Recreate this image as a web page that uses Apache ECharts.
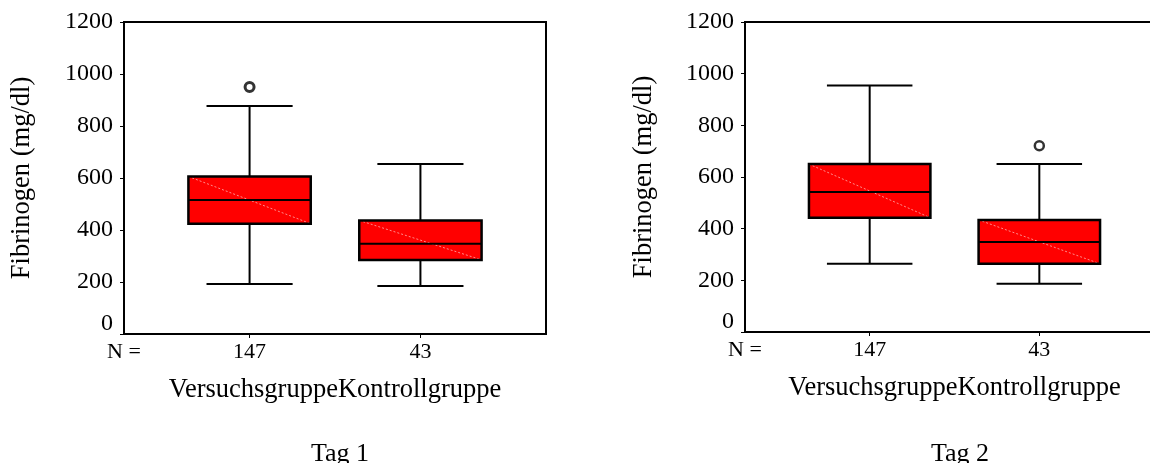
<!DOCTYPE html>
<html>
<head>
<meta charset="utf-8">
<script src="https://cdn.jsdelivr.net/npm/echarts@6/dist/echarts.min.js"></script>
<style>html,body{margin:0;padding:0;background:#fff;overflow:hidden}#c{width:1150px;height:463px}</style>
</head>
<body>
<div id="c"></div>
<script>
// ---- data ----
const categories = ['Versuchsgruppe', 'Kontrollgruppe'];
const nCounts = [147, 43];
const panelTitles = ['Tag 1', 'Tag 2'];
const yTicks = [0, 200, 400, 600, 800, 1000, 1200];
// [low whisker, Q1, median, Q3, high whisker]
const tag1Boxes = [[192, 424, 515, 606, 877], [185, 285, 347, 437, 654]];
const tag2Boxes = [[264, 442, 542, 650, 954], [187, 264, 348, 434, 650]];
// [category index, value]
const tag1Outliers = [[0, 950]];
const tag2Outliers = [[1, 721]];

const FONT = '"Liberation Serif", "Times New Roman", serif';
const XMIN = 0.265, XMAX = 2.735, BOX_HW = 0.358, CAP_HW = 0.252;

function renderBox(params, api) {
  const x = api.value(0);
  const lo = api.value(1), q1 = api.value(2), md = api.value(3), q3 = api.value(4), hi = api.value(5);
  const pLo = api.coord([x, lo]), pHi = api.coord([x, hi]);
  const bl = api.coord([x - BOX_HW, q1]), tr = api.coord([x + BOX_HW, q3]);
  const mL = api.coord([x - BOX_HW, md]), mR = api.coord([x + BOX_HW, md]);
  const cL = api.coord([x - CAP_HW, lo])[0], cR = api.coord([x + CAP_HW, lo])[0];
  const ls = {stroke: '#000', lineWidth: 2};
  return {
    type: 'group',
    children: [
      {type: 'line', shape: {x1: pLo[0], y1: pLo[1], x2: pHi[0], y2: pHi[1]}, style: ls},
      {type: 'line', shape: {x1: cL, y1: pLo[1], x2: cR, y2: pLo[1]}, style: ls},
      {type: 'line', shape: {x1: cL, y1: pHi[1], x2: cR, y2: pHi[1]}, style: ls},
      {type: 'rect', shape: {x: bl[0], y: tr[1], width: tr[0] - bl[0], height: bl[1] - tr[1]}, style: {fill: '#ff0000', stroke: null}},
      {type: 'line', shape: {x1: bl[0], y1: tr[1], x2: tr[0], y2: bl[1]}, style: {stroke: '#ff8c8c', lineWidth: 1, lineDash: [2, 2]}},
      {type: 'line', shape: {x1: mL[0], y1: mL[1], x2: mR[0], y2: mR[1]}, style: ls},
      {type: 'rect', shape: {x: bl[0], y: tr[1], width: tr[0] - bl[0], height: bl[1] - tr[1]}, style: {fill: null, stroke: '#000', lineWidth: 2.5}}
    ]
  };
}

const grids = [
  {left: 124, width: 422, top: 22, bottom: 129, show: true, borderColor: '#000', borderWidth: 2, outerBoundsMode: 'none', containLabel: false},
  {left: 745, width: 419, top: 22, bottom: 131, show: true, borderColor: '#000', borderWidth: 2, outerBoundsMode: 'none', containLabel: false}
];

function xAxisFor(i) {
  return {
    gridIndex: i, type: 'value', min: XMIN, max: XMAX,
    axisLine: {show: true, lineStyle: {color: '#000', width: 2}},
    splitLine: {show: false},
    axisTick: {show: true, customValues: [1, 2], length: 4, lineStyle: {color: '#000', width: 1}},
    axisLabel: {
      customValues: [XMIN, 1, 2], margin: 7, color: '#000', fontSize: 22, fontFamily: FONT,
      formatter: v => v < 0.9 ? 'N =' : String(nCounts[Math.round(v) - 1])
    },
    name: categories.join(''), nameLocation: 'middle', nameGap: 43,
    nameTextStyle: {color: '#000', fontSize: 26.5, fontFamily: FONT}
  };
}
function yAxisFor(i, gap) {
  return {
    gridIndex: i, type: 'value', min: yTicks[0], max: yTicks[yTicks.length - 1], interval: 200,
    axisLine: {show: true, lineStyle: {color: '#000', width: 2}},
    splitLine: {show: false},
    axisTick: {show: true, length: 4, lineStyle: {color: '#000', width: 1}},
    axisLabel: {
      margin: 11, color: '#000', fontSize: 24, fontFamily: FONT,
      formatter: v => v === 0 ? '{z|0}' : String(v),
      rich: {z: {fontSize: 24, fontFamily: FONT, color: '#000', padding: [0, 0, 20, 0]}}
    },
    name: 'Fibrinogen (mg/dl)', nameLocation: 'middle', nameGap: gap,
    nameTextStyle: {color: '#000', fontSize: 26.5, fontFamily: FONT}
  };
}
function boxData(boxes) { return boxes.map((b, k) => [k + 1].concat(b)); }
function outData(outs) { return outs.map(o => [o[0] + 1, o[1]]); }

const option = {
  animation: false,
  backgroundColor: '#fff',
  title: [
    {text: panelTitles[0], left: 335, top: 436, textAlign: 'center', textStyle: {color: '#000', fontSize: 26, fontWeight: 'normal', fontFamily: FONT}},
    {text: panelTitles[1], left: 955, top: 436, textAlign: 'center', textStyle: {color: '#000', fontSize: 26, fontWeight: 'normal', fontFamily: FONT}}
  ],
  grid: grids,
  xAxis: [xAxisFor(0), xAxisFor(1)],
  yAxis: [yAxisFor(0, 88), yAxisFor(1, 87)],
  series: [
    {type: 'custom', xAxisIndex: 0, yAxisIndex: 0, renderItem: renderBox, data: boxData(tag1Boxes), clip: false},
    {type: 'custom', xAxisIndex: 1, yAxisIndex: 1, renderItem: renderBox, data: boxData(tag2Boxes), clip: false},
    {type: 'scatter', xAxisIndex: 0, yAxisIndex: 0, data: outData(tag1Outliers), symbol: 'circle', symbolSize: 9,
      itemStyle: {color: '#fff', borderColor: '#000', borderWidth: 3}},
    {type: 'scatter', xAxisIndex: 1, yAxisIndex: 1, data: outData(tag2Outliers), symbol: 'circle', symbolSize: 9,
      itemStyle: {color: '#fff', borderColor: '#000', borderWidth: 2.5}}
  ]
};
echarts.init(document.getElementById('c'), null, {renderer: 'canvas'}).setOption(option);
</script>
</body>
</html>
